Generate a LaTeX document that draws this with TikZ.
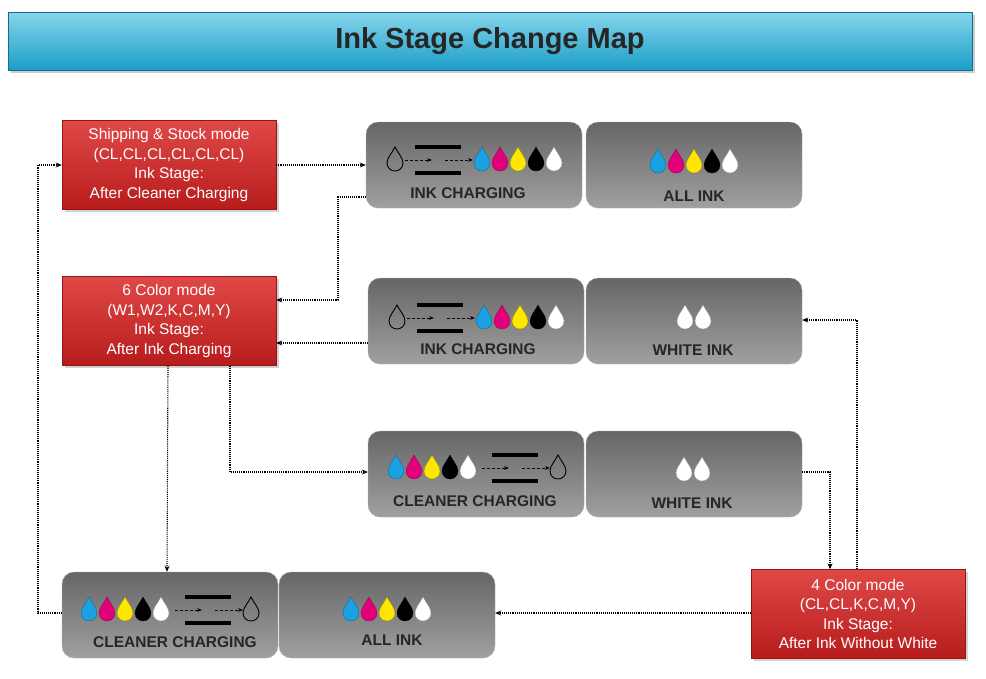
\documentclass[tikz,border=0pt]{standalone}
\usepackage{fontspec}
\setmainfont{Liberation Sans}
\usetikzlibrary{arrows.meta,calc,shadows}
\definecolor{cyanA}{HTML}{86D6EC}
\definecolor{cyanB}{HTML}{1B9DC6}
\definecolor{redA}{HTML}{E04848}
\definecolor{redB}{HTML}{B71C1C}
\definecolor{grayA}{HTML}{666666}
\definecolor{grayB}{HTML}{A0A0A0}
\definecolor{dcyan}{HTML}{1BA1E2}
\definecolor{dmag}{HTML}{E2007A}
\definecolor{dyel}{HTML}{FFE600}
\tikzset{
 redbox/.style={draw=redB!80!black,top color=redA,bottom color=redB,minimum width=214pt,minimum height=89pt,text=white,align=center,font=\fontsize{15.5}{19.5}\selectfont,drop shadow={opacity=0.35}},
 graybox/.style={draw=gray!60,top color=grayA,bottom color=grayB,minimum width=216pt,minimum height=86pt,rounded corners=12pt},
 glabel/.style={font=\bfseries\fontsize{15.5}{17}\selectfont,text=black!85},
 conn/.style={densely dotted,line width=1.1pt,-{Stealth[length=6pt,width=5pt]}},
 drop/.pic={\fill[#1,draw=#1!60!black,line width=0.3pt] (0,-13) .. controls (3,-7) and (8,-2) .. (8,3) .. controls (8,8) and (4,11) .. (0,11) .. controls (-4,11) and (-8,8) .. (-8,3) .. controls (-8,-2) and (-3,-7) .. (0,-13) -- cycle;},
 odrop/.pic={\draw[black,line width=0.9pt] (0,-13) .. controls (3,-7) and (8,-2) .. (8,3) .. controls (8,8) and (4,11) .. (0,11) .. controls (-4,11) and (-8,8) .. (-8,3) .. controls (-8,-2) and (-3,-7) .. (0,-13) -- cycle;},
 inks/.pic={\pic at (0,0) {drop=dcyan};\pic at (18,0) {drop=dmag};\pic at (36,0) {drop=dyel};\pic at (54,0) {drop=black};\pic at (72,0) {drop=white};},
 bars/.pic={\fill[black] (0,-15) rectangle (46,-11);\fill[black] (0,11) rectangle (46,15);
   \draw[densely dashed,line width=1pt,-{Stealth[length=5pt]}] (-10,0) -- (17,0);
   \draw[densely dashed,line width=1pt,-{Stealth[length=5pt]}] (30,0) -- (58,0);},
}
\begin{document}
\begin{tikzpicture}[x=1pt,y=-1pt]
\useasboundingbox (0,0) rectangle (986,678);
\fill[white] (0,0) rectangle (986,678);
\node[draw=cyanB!70!black,top color=cyanA,bottom color=cyanB,minimum width=964pt,minimum height=58pt,drop shadow={opacity=0.4},font=\bfseries\fontsize{29}{32}\selectfont,text=black!85] (title) at (490,41) {Ink Stage Change Map};

\node[redbox] (r1) at (169,165) {Shipping \& Stock mode\\(CL,CL,CL,CL,CL,CL)\\Ink Stage:\\After Cleaner Charging};
\node[redbox] (r2) at (169,321) {6 Color mode\\(W1,W2,K,C,M,Y)\\Ink Stage:\\After Ink Charging};
\node[redbox] (r3) at (858,614) {4 Color mode\\(CL,CL,K,C,M,Y)\\Ink Stage:\\After Ink Without White};

\node[graybox] (g1a) at (474,165) {};
\node[graybox] (g1b) at (694,165) {};
\node[graybox] (g2a) at (476,321) {};
\node[graybox] (g2b) at (694,321) {};
\node[graybox] (g3a) at (476,474) {};
\node[graybox] (g3b) at (694,474) {};
\node[graybox] (g4a) at (170,615) {};
\node[graybox] (g4b) at (387,615) {};

% row 1
\pic at (395,160) {odrop};\pic at (415,160) {bars};\pic at (482,160) {inks};
\node[glabel] (t1a) at (468,193) {INK CHARGING};
\pic at (658,162) {inks};
\node[glabel] (t1b) at (694,196) {ALL INK};
% row 2
\pic at (397,318) {odrop};\pic at (417,318) {bars};\pic at (484,318) {inks};
\node[glabel] (t2a) at (478,349) {INK CHARGING};
\pic at (685,318) {drop=white};\pic at (703,318) {drop=white};
\node[glabel] (t2b) at (693,350) {WHITE INK};
% row 3
\pic at (396,468) {inks};\pic at (492,468) {bars};\pic at (558,468) {odrop};
\node[glabel] (t3a) at (475,501) {CLEANER CHARGING};
\pic at (684,470) {drop=white};\pic at (702,470) {drop=white};
\node[glabel] (t3b) at (692,503) {WHITE INK};
% row 4
\pic at (89,610) {inks};\pic at (185,610) {bars};\pic at (251,610) {odrop};
\node[glabel] (t4a) at (175,642) {CLEANER CHARGING};
\pic at (351,610) {drop=dcyan};\pic at (369,610) {drop=dmag};\pic at (387,610) {drop=dyel};\pic at (405,610) {drop=black};\pic at (423,610) {drop=white};
\node[glabel] (t4b) at (392,640) {ALL INK};

% connectors
\draw[conn] (r1.east) -- (g1a.west);
\draw[conn] ($(g1a.west)+(0,32)$) -| (338,300) -- ($(r2.east)+(0,-21)$);
\draw[conn] ($(g2a.west)+(0,22)$) -- ($(r2.east)+(0,22)$);
\draw[conn] ($(r2.south)+(-1,0)$) -- ($(g4a.north)+(-3,0)$);
\draw[conn] ($(r2.south)+(61,0)$) |- ($(g3a.west)+(0,-2)$);
\draw[conn] ($(g3b.east)+(0,-2)$) -| ($(r3.north)+(-28,0)$);
\draw[conn] ($(r3.north)+(-1,0)$) |- ($(g2b.east)+(0,-1)$);
\draw[conn] ($(r3.west)+(0,-1)$) -- ($(g4b.east)+(0,-2)$);
\draw[conn] ($(g4a.west)+(0,-2)$) -| (38,165) -- (r1.west);
\end{tikzpicture}
\end{document}
